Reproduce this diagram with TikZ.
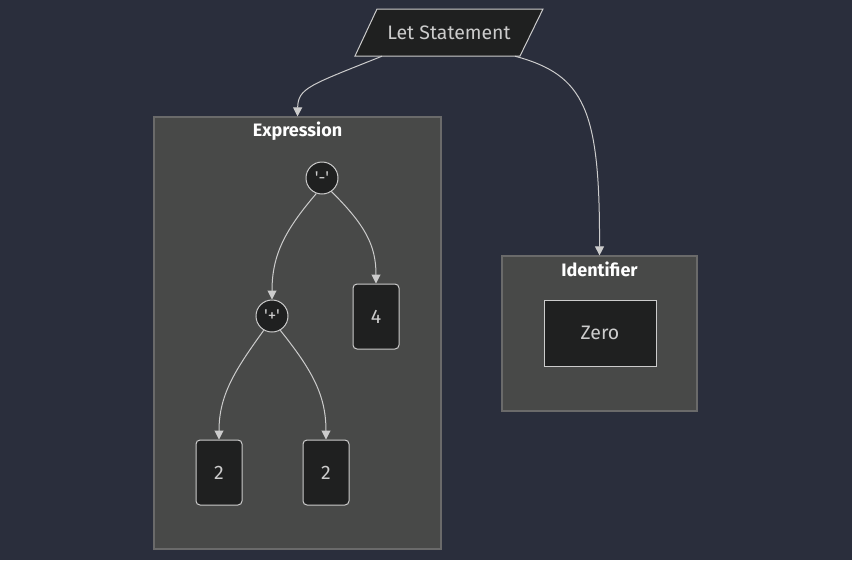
\documentclass[tikz,border=0pt]{standalone}
\usepackage{fontspec}
\setmainfont{Fira Sans}
\usetikzlibrary{arrows.meta,calc}
\definecolor{bg}{HTML}{2A2E3C}
\definecolor{nodefill}{HTML}{1F2020}
\definecolor{nodeline}{HTML}{CCCCCC}
\definecolor{clfill}{HTML}{484948}
\definecolor{clline}{HTML}{6A6A6A}
\definecolor{txt}{HTML}{CCCCCC}
\tikzset{
  cluster/.style={draw=clline, fill=clfill, line width=1.2pt, inner sep=0pt},
  cltitle/.style={text=white, font=\fontsize{18}{21}\selectfont\bfseries, inner sep=0pt},
  labelfont/.style={text=txt, font=\fontsize{19.5}{23}\selectfont},
  leaf/.style={draw=nodeline, fill=nodefill, line width=1pt, rounded corners=4pt, minimum width=46pt, minimum height=65pt, labelfont, inner sep=0pt},
  opnode/.style={circle, draw=nodeline, fill=nodefill, line width=1pt, minimum size=32pt, text=txt, font=\fontsize{17}{20}\selectfont, inner sep=0pt},
  conn/.style={draw=nodeline, line width=1pt, -{Triangle[length=9pt,width=9pt]}},
}
\begin{document}
\begin{tikzpicture}[x=1pt,y=-1pt]
\fill[bg] (0,0) rectangle (852,560);
\useasboundingbox (0,0) rectangle (852,560);
% clusters
\node[cluster, minimum width=287pt, minimum height=432pt] (expr) at (297.5,333) {};
\node[cltitle] (exprtitle) at (297.5,131) {Expression};
\node[cluster, minimum width=195pt, minimum height=155pt] (ident) at (599.5,333.5) {};
\node[cltitle] (identtitle) at (599.5,269) {Identifier};
% Let statement (parallelogram)
\filldraw[draw=nodeline, fill=nodefill, line width=1pt]
  (355,56) -- (377,9) -- (543,9) -- (520,56) -- cycle;
\node[minimum width=165pt, minimum height=47pt, inner sep=0pt, labelfont] (let) at (449,32.5) {Let Statement};
% expression tree
\node[opnode] (minus) at (322,178) {\textquotesingle-\textquotesingle};
\node[opnode] (plus) at (272,316) {\textquotesingle+\textquotesingle};
\node[leaf] (four) at (376,316.5) {4};
\node[leaf] (twoa) at (219,472.5) {2};
\node[leaf] (twob) at (326,472.5) {2};
% identifier
\node[draw=nodeline, fill=nodefill, line width=1pt, minimum width=112pt, minimum height=66pt, labelfont, inner sep=0pt] (zero) at (600,333) {Zero};
% connectors
\draw[conn] ($(let.south)+(-67,0)$) .. controls (310,85) and (298,88) .. (expr.north);
\draw[conn] ($(let.south)+(66,0)$) .. controls (585,75) and (600,110) .. (ident.north);
\draw[conn] (minus.250) .. controls (285,230) and (272,255) .. (plus.north);
\draw[conn] (minus.305) .. controls (365,225) and (376,245) .. (four.north);
\draw[conn] (plus.240) .. controls (235,370) and (219,395) .. (twoa.north);
\draw[conn] (plus.300) .. controls (312,370) and (326,395) .. (twob.north);
\end{tikzpicture}
\end{document}
